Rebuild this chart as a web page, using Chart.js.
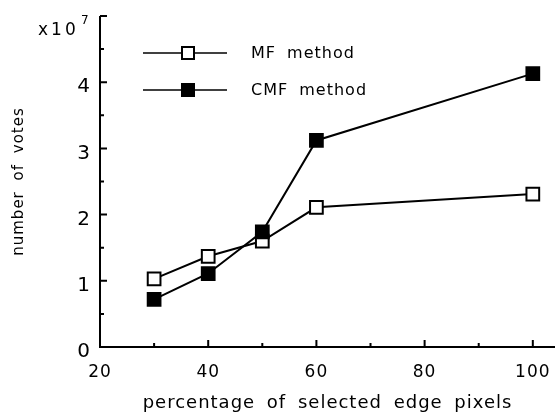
<!DOCTYPE html>
<html>
<head>
<meta charset="utf-8">
<script src="https://cdn.jsdelivr.net/npm/chart.js@4/dist/chart.umd.min.js"></script>
<style>
  html, body { margin: 0; padding: 0; background: #fff; overflow: hidden; }
  canvas { display: block; }
</style>
</head>
<body>
<canvas id="votesChart" width="556" height="415"></canvas>
<script>
// percentage of selected edge pixels
var percents = [30, 40, 50, 60, 100];
// number of votes, in units of 10^7
var mfVotes = [1.03, 1.37, 1.60, 2.11, 2.31];
var cmfVotes = [0.72, 1.11, 1.74, 3.12, 4.13];
var seriesNames = ['MF method', 'CMF method'];
var xTickLabels = [20, 40, 60, 80, 100];
var yTickLabels = [0, 1, 2, 3, 4];

var FONT = "'DejaVu Sans', 'Liberation Sans', Arial, sans-serif";

function toPoints(ys) {
    return percents.map(function (p, i) { return { x: p, y: ys[i] }; });
}

// wide letter spacing like the old typeset figure
function setSpacing(chart) {
    chart.ctx.letterSpacing = '1px';
    chart.ctx.wordSpacing = '5px';
}
var spacing = {
    id: 'spacing',
    beforeUpdate: setSpacing,
    beforeDraw: setSpacing
};

// axis lines with small inward tick marks
var inwardAxes = {
    id: 'inwardAxes',
    afterDraw: function (chart) {
        var ctx = chart.ctx, a = chart.chartArea;
        var x = chart.scales.x, y = chart.scales.y;
        ctx.save();
        ctx.strokeStyle = '#000';
        ctx.lineWidth = 2;
        ctx.beginPath();
        ctx.moveTo(a.left, a.top);
        ctx.lineTo(a.left, a.bottom);
        ctx.lineTo(a.right, a.bottom);
        for (var v = 0.5; v <= 5; v += 0.5) {
            var py = y.getPixelForValue(v);
            ctx.moveTo(a.left, py);
            ctx.lineTo(a.left + (v % 1 ? 4 : 7), py);
        }
        for (var u = 30; u <= 100; u += 10) {
            var px = x.getPixelForValue(u);
            ctx.moveTo(px, a.bottom);
            ctx.lineTo(px, a.bottom - (u % 20 ? 4 : 7));
        }
        ctx.stroke();

        // x10^7 multiplier
        ctx.fillStyle = '#000';
        ctx.textBaseline = 'alphabetic';
        ctx.textAlign = 'left';
        ctx.letterSpacing = '3px';
        ctx.font = '17px ' + FONT;
        ctx.fillText('x10', 38, 35);
        ctx.font = '12px ' + FONT;
        ctx.fillText('7', 81, 24);
        ctx.restore();
    }
};

// legend drawn inside the plot: line, marker in the middle, label
var insideLegend = {
    id: 'insideLegend',
    afterDraw: function (chart) {
        var ctx = chart.ctx;
        var rows = [53, 90];
        ctx.save();
        chart.data.datasets.forEach(function (ds, i) {
            var yy = rows[i];
            ctx.strokeStyle = '#000';
            ctx.lineWidth = 1.5;
            ctx.beginPath();
            ctx.moveTo(143, yy);
            ctx.lineTo(227, yy);
            ctx.stroke();
            ctx.fillStyle = ds.pointBackgroundColor;
            ctx.lineWidth = 2;
            ctx.fillRect(182, yy - 6, 12, 12);
            ctx.strokeRect(182, yy - 6, 12, 12);
            ctx.fillStyle = '#000';
            ctx.font = '16px ' + FONT;
            ctx.textBaseline = 'middle';
            ctx.textAlign = 'left';
            ctx.fillText(ds.label, 251, yy + 1);
        });
        ctx.restore();
    }
};

var ctx = document.getElementById('votesChart').getContext('2d');
var votesChart = new Chart(ctx, {
    type: 'line',
    data: {
        datasets: [{
            label: seriesNames[0],
            data: toPoints(mfVotes),
            borderColor: '#000',
            borderWidth: 2,
            pointStyle: 'rect',
            pointRadius: 9,
            pointBorderWidth: 2,
            pointBackgroundColor: '#fff',
            pointBorderColor: '#000',
            order: 1
        }, {
            label: seriesNames[1],
            data: toPoints(cmfVotes),
            borderColor: '#000',
            borderWidth: 2,
            pointStyle: 'rect',
            pointRadius: 9,
            pointBorderWidth: 2,
            pointBackgroundColor: '#000',
            pointBorderColor: '#000',
            order: 0
        }]
    },
    options: {
        responsive: false,
        animation: false,
        layout: { autoPadding: false, padding: { top: 16, right: 1, left: 0, bottom: 0 } },
        scales: {
            x: {
                type: 'linear',
                min: 20,
                max: 104.1,
                grid: { display: false, drawTicks: false },
                border: { display: false },
                afterFit: function (scale) {
                    scale.height = 68;
                    scale.paddingLeft = 0;
                    scale.paddingRight = 0;
                },
                ticks: {
                    stepSize: 10,
                    includeBounds: false,
                    autoSkip: false,
                    maxRotation: 0,
                    padding: 15,
                    color: '#000',
                    font: { size: 17, family: FONT },
                    callback: function (v) { return xTickLabels.indexOf(v) >= 0 ? String(v) : ''; }
                },
                title: {
                    display: true,
                    text: 'percentage of selected edge pixels',
                    color: '#000',
                    font: { size: 18, family: FONT },
                    padding: { top: 0, bottom: 1 }
                }
            },
            y: {
                min: 0,
                max: 5,
                grid: { display: false, drawTicks: false },
                border: { display: false },
                afterFit: function (scale) {
                    scale.width = 100;
                    scale.paddingTop = 0;
                    scale.paddingBottom = 0;
                },
                ticks: {
                    stepSize: 1,
                    padding: 9,
                    labelOffset: 5,
                    color: '#000',
                    font: { size: 20, family: FONT },
                    callback: function (v) { return yTickLabels.indexOf(v) >= 0 ? String(v) : ''; }
                },
                title: {
                    display: true,
                    text: 'number of votes',
                    color: '#000',
                    font: { size: 15, family: FONT },
                    padding: { top: 10, bottom: 0 }
                }
            }
        },
        plugins: {
            legend: { display: false },
            tooltip: { enabled: false }
        }
    },
    plugins: [spacing, inwardAxes, insideLegend]
});
</script>
</body>
</html>
